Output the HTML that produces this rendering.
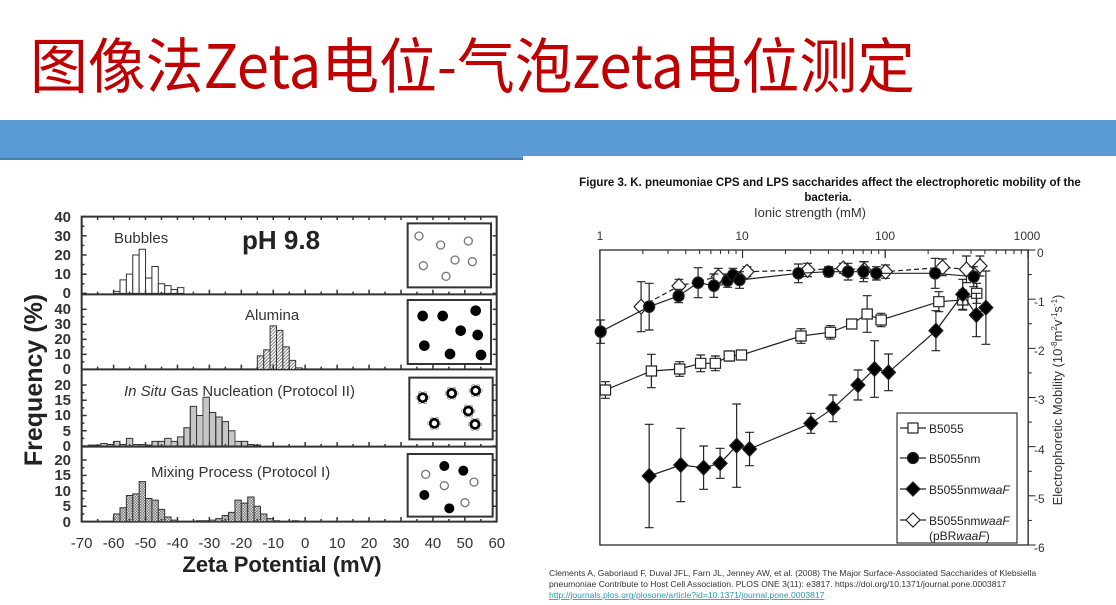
<!DOCTYPE html>
<html><head><meta charset="utf-8"><style>
html,body{margin:0;padding:0;background:#fff;width:1116px;height:605px;overflow:hidden}
svg{display:block}
text{font-family:"Liberation Sans","Noto Sans CJK SC",sans-serif}
</style></head><body>
<svg id="s" width="1116" height="605" viewBox="0 0 1116 605" xmlns="http://www.w3.org/2000/svg">
<defs>
<pattern id="hatch" patternUnits="userSpaceOnUse" width="10" height="10"><rect width="10" height="10" fill="#fff"/><path d="M-2,2 L2,-2 M0,10 L10,0 M8,12 L12,8" stroke="#444" stroke-width="2"/></pattern>
<pattern id="vert" patternUnits="userSpaceOnUse" width="6" height="6"><rect width="6" height="6" fill="#fff"/><path d="M3,0 V6" stroke="#555" stroke-width="2"/></pattern>
<pattern id="check" patternUnits="userSpaceOnUse" width="8" height="8"><rect width="8" height="8" fill="#ddd"/><rect width="4" height="4" fill="#777"/><rect x="4" y="4" width="4" height="4" fill="#777"/></pattern>
</defs>
<text x="30" y="88" font-size="60" fill="#c00000" textLength="885" lengthAdjust="spacingAndGlyphs" style="font-family:'Noto Sans CJK SC',sans-serif">图像法Zeta电位-气泡zeta电位测定</text>
<rect x="0" y="120" width="1116" height="40" fill="#5b9bd5"/>
<rect x="0" y="158" width="523" height="2" fill="#4a7fb0"/>
<rect x="523" y="156" width="593" height="449" fill="#fff"/>

<!-- LEFT CHART -->
<g id="L" transform="translate(20,200) scale(0.33333)" fill="none" stroke="#333">
<rect x="185" y="50" width="1245" height="915" stroke-width="2" vector-effect="non-scaling-stroke"/>
<path d="M185,283 H1430 M185,508 H1430 M185,740 H1430" stroke-width="2" vector-effect="non-scaling-stroke"/>
<g id="bars" stroke="#333" stroke-width="1" vector-effect="non-scaling-stroke"></g>
<g id="ticksL" stroke="#333" stroke-width="1.5"></g>
<rect x="1163" y="70" width="250" height="192" stroke-width="2" vector-effect="non-scaling-stroke"/>
<rect x="1163" y="300" width="250" height="192" stroke-width="2" vector-effect="non-scaling-stroke"/>
<rect x="1168" y="533" width="250" height="185" stroke-width="2" vector-effect="non-scaling-stroke"/>
<rect x="1163" y="762" width="255" height="188" stroke-width="2" vector-effect="non-scaling-stroke"/>
<g id="ins"></g>
</g>
<g font-size="15" fill="#333" text-anchor="end" font-weight="bold">
<text x="71" y="222">40</text><text x="71" y="241">30</text><text x="71" y="260">20</text><text x="71" y="279">10</text><text x="71" y="298">0</text>
<text x="71" y="314">40</text><text x="71" y="329">30</text><text x="71" y="344">20</text><text x="71" y="359">10</text><text x="71" y="374">0</text>
<text x="71" y="390">20</text><text x="71" y="405">15</text><text x="71" y="420">10</text><text x="71" y="436">5</text><text x="71" y="451">0</text>
<text x="71" y="465">20</text><text x="71" y="480">15</text><text x="71" y="496">10</text><text x="71" y="511">5</text><text x="71" y="527">0</text>
</g>
<g font-size="15" fill="#333" text-anchor="middle" id="xl"></g>
<text transform="translate(42,380) rotate(-90)" font-size="25" font-weight="bold" fill="#222" text-anchor="middle">Frequency (%)</text>
<text x="282" y="572" font-size="22" font-weight="bold" fill="#222" text-anchor="middle">Zeta Potential (mV)</text>
<text x="114" y="243" font-size="15" fill="#333">Bubbles</text>
<text x="242" y="249" font-size="26" font-weight="bold" fill="#222">pH 9.8</text>
<text x="245" y="320" font-size="15" fill="#333">Alumina</text>
<text x="124" y="396" font-size="15" fill="#333"><tspan font-style="italic">In Situ</tspan> Gas Nucleation (Protocol II)</text>
<text x="151" y="477" font-size="15" fill="#333">Mixing Process (Protocol I)</text>

<!-- RIGHT CHART -->
<text x="830" y="186" font-size="11.5" font-weight="bold" fill="#111" text-anchor="middle">Figure 3. K. pneumoniae CPS and LPS saccharides affect the electrophoretic mobility of the</text>
<text x="828" y="201" font-size="11.5" font-weight="bold" fill="#111" text-anchor="middle">bacteria.</text>
<text x="810" y="217" font-size="13" fill="#333" text-anchor="middle">Ionic strength (mM)</text>
<g font-size="12" fill="#333" text-anchor="middle">
<text x="600" y="240">1</text><text x="742" y="240">10</text><text x="885" y="240">100</text><text x="1027" y="240">1000</text>
</g>
<g font-size="12" fill="#333">
<text x="1037" y="257">0</text><text x="1034" y="306">-1</text><text x="1034" y="355">-2</text><text x="1034" y="404">-3</text><text x="1034" y="454">-4</text><text x="1034" y="503">-5</text><text x="1034" y="552">-6</text>
</g>
<text transform="translate(1062,400) rotate(-90)" font-size="13" fill="#333" text-anchor="middle">Electrophoretic Mobility (10<tspan font-size="8" dy="-5">-8</tspan><tspan dy="5">m</tspan><tspan font-size="8" dy="-5">2</tspan><tspan dy="5">v</tspan><tspan font-size="8" dy="-5">-1</tspan><tspan dy="5">s</tspan><tspan font-size="8" dy="-5">-1</tspan><tspan dy="5">)</tspan></text>
<g id="R" transform="translate(540,160) scale(0.3676,0.33333)" fill="none" stroke="#222">
<rect x="163" y="270" width="1165" height="885" stroke-width="1.3" vector-effect="non-scaling-stroke"/>
<g id="rt" stroke-width="1" vector-effect="non-scaling-stroke"></g>
<g id="ser"></g>
</g>
<rect x="897" y="413" width="120" height="130" fill="#fff" stroke="#333" stroke-width="1.2"/>
<g stroke="#222" stroke-width="1.2">
<line x1="900" y1="428" x2="926" y2="428"/><rect x="908" y="423" width="10" height="10" fill="#fff"/>
<line x1="900" y1="458" x2="926" y2="458"/><circle cx="913" cy="458" r="5.5" fill="#000"/>
<line x1="900" y1="489" x2="926" y2="489"/><path d="M913,482 L920,489 L913,496 L906,489Z" fill="#000"/>
<line x1="900" y1="520" x2="926" y2="520"/><path d="M913,513 L920,520 L913,527 L906,520Z" fill="#fff"/>
</g>
<g font-size="12" fill="#222">
<text x="929" y="433">B5055</text><text x="929" y="463">B5055nm</text>
<text x="929" y="494">B5055nm<tspan font-style="italic">waaF</tspan></text>
<text x="929" y="525">B5055nm<tspan font-style="italic">waaF</tspan></text>
<text x="929" y="540">(pBR<tspan font-style="italic">waaF</tspan>)</text>
</g>
<g font-size="8.6" fill="#333">
<text x="549" y="576">Clements A, Gaboriaud F, Duval JFL, Farn JL, Jenney AW, et al. (2008) The Major Surface-Associated Saccharides of Klebsiella</text>
<text x="549" y="587">pneumoniae Contribute to Host Cell Association. PLOS ONE 3(11): e3817. https://doi.org/10.1371/journal.pone.0003817</text>
<text x="549" y="598" fill="#2a9aa8" text-decoration="underline">http://journals.plos.org/plosone/article?id=10.1371/journal.pone.0003817</text>
</g>
</svg>
<script>
var NS="http://www.w3.org/2000/svg";
function el(p,t,a){var e=document.createElementNS(NS,t);for(var k in a)e.setAttribute(k,a[k]);p.appendChild(e);return e;}
var bars=document.getElementById('bars');
function X(v){return 855.6+9.58*v;}
function hist(start,vals,base,sc,fill){for(var i=0;i<vals.length;i++){var h=vals[i]*sc;if(h<=0)continue;el(bars,'rect',{x:X(start+2*i),y:base-h,width:19.16,height:h,fill:fill,'vector-effect':'non-scaling-stroke'});}}
hist(-60,[1,7,10,20,23,8,14,5,4,2,3],280,5.75,'#fff');
var al=[9,13,29,26,15,6,1];for(var i=0;i<al.length;i++){var h=al[i]*4.5;el(bars,'rect',{x:712+19.16*i,y:508-h,width:19.16,height:h,fill:'url(#hatch)','vector-effect':'non-scaling-stroke'});}
hist(-68,[0.3,0.3,0.8,0.5,1.5,0.5,2.5,0.5,0.5,0.3,1.5,1.5,2.5,1.5,3,6,13,10,16,11,9.5,8,5,1.5,1.5,0.5,0.3],738,9.15,'url(#vert)');
hist(-60,[2.5,4.5,8.5,9,13,7.5,7,4,1.5,0.5],965,9.25,'url(#check)');
hist(-34,[0.3,0.3,0.5,1,2,3,7,6,8,5,2.5,1,0.3],965,9.25,'url(#check)');
hist(-4,[0.3],965,9.25,'url(#check)');
var tl=document.getElementById('ticksL');
var xl=document.getElementById('xl');
for(var v=-70;v<=60;v+=5){var x=X(v);var big=v%10==0;
 [283,508,740,965].forEach(function(b){el(tl,'line',{x1:x,y1:b,x2:x,y2:b-(big?14:8),'vector-effect':'non-scaling-stroke'});});
 el(tl,'line',{x1:x,y1:50,x2:x,y2:60,'vector-effect':'non-scaling-stroke'});
 if(big){var t=el(xl,'text',{x:20+x/3,y:548});t.textContent=v;}}
// y ticks
[[50,280,4],[328,508,4],[555,738,4],[780,965,4]].forEach(function(p){var st=(p[1]-p[0])/p[2];for(var k=0;k<=p[2];k++){var y=p[1]-k*st;el(tl,'line',{x1:185,y1:y,x2:200,y2:y,'vector-effect':'non-scaling-stroke'});el(tl,'line',{x1:1430,y1:y,x2:1418,y2:y,'vector-effect':'non-scaling-stroke'});if(k<p[2])el(tl,'line',{x1:185,y1:y-st/2,x2:193,y2:y-st/2,'vector-effect':'non-scaling-stroke'});}});
var ins=document.getElementById('ins');
[[1197,108],[1262,135],[1345,123],[1210,197],[1305,180],[1357,185],[1278,229]].forEach(function(c){el(ins,'circle',{cx:c[0],cy:c[1],r:12,stroke:'#777',fill:'#fff','stroke-width':4});});
[[1208,348],[1268,348],[1367,332],[1322,392],[1373,405],[1213,437],[1290,462],[1383,465]].forEach(function(c){el(ins,'circle',{cx:c[0],cy:c[1],r:16,fill:'#000',stroke:'none'});});
[[1208,593],[1295,580],[1367,572],[1345,633],[1243,670],[1365,673]].forEach(function(c){for(var a=0;a<6;a++){var an=a*1.05;el(ins,'circle',{cx:c[0]+15*Math.cos(an),cy:c[1]+15*Math.sin(an),r:5,stroke:'#888',fill:'#fff','stroke-width':2});}el(ins,'circle',{cx:c[0],cy:c[1],r:12,stroke:'#000',fill:'#fff','stroke-width':8});});
[[1273,798],[1330,812],[1213,885],[1288,925]].forEach(function(c){el(ins,'circle',{cx:c[0],cy:c[1],r:15,fill:'#000',stroke:'none'});});
[[1217,823],[1273,857],[1362,846],[1335,908]].forEach(function(c){el(ins,'circle',{cx:c[0],cy:c[1],r:12,stroke:'#777',fill:'#fff','stroke-width':4});});
// right chart ticks
var rt=document.getElementById('rt');
for(var d=0;d<3;d++)for(var m=1;m<=10;m++){var x=163+388*(d+Math.log10(m));var L=(m==1||m==10)?24:12;el(rt,'line',{x1:x,y1:270,x2:x,y2:270+L,'vector-effect':'non-scaling-stroke'});}
for(var k=0;k<=12;k++){var y=270+k*885/12;el(rt,'line',{x1:1328,y1:y,x2:1328+(k%2?10:20),y2:y,'vector-effect':'non-scaling-stroke'});}
var ser=document.getElementById('ser');
function series(pts,type,dash){var d='';pts.forEach(function(p,i){d+=(i?'L':'M')+p[0]+','+p[1];});
 var a={d:d,stroke:'#222','stroke-width':1.2,'vector-effect':'non-scaling-stroke',fill:'none'};if(dash)a['stroke-dasharray']='5,3';el(ser,'path',a);
 pts.forEach(function(p){var e=p[2];el(ser,'path',{d:'M'+p[0]+','+(p[1]-e)+'V'+(p[1]+e)+'M'+(p[0]-12)+','+(p[1]-e)+'h24M'+(p[0]-12)+','+(p[1]+e)+'h24',stroke:'#222','stroke-width':1.2,'vector-effect':'non-scaling-stroke'});});
 pts.forEach(function(p){var x=p[0],y=p[1];var sa={stroke:'#222','stroke-width':1.2,'vector-effect':'non-scaling-stroke'};
  if(type=='sq'){sa.x=x-14;sa.y=y-15;sa.width=28;sa.height=30;sa.fill='#fff';el(ser,'rect',sa);}
  else if(type=='ci'){sa.cx=x;sa.cy=y;sa.rx=15;sa.ry=17;sa.fill='#000';el(ser,'ellipse',sa);}
  else{sa.d='M'+x+','+(y-22)+'L'+(x+19)+','+y+'L'+x+','+(y+22)+'L'+(x-19)+','+y+'Z';sa.fill=type=='dm'?'#000':'#fff';el(ser,'path',sa);}});}
series([[275,440,75],[378,378,20],[485,350,25],[563,335,15],[728,330,20],[825,325,15],[882,330,25],[940,335,20],[1095,322,25],[1160,328,40],[1197,318,30]],'od',true);
series([[165,515,35],[297,440,70],[377,408,20],[430,368,45],[473,377,35],[510,362,20],[525,345,20],[543,360,25],[703,340,28],[785,335,15],[838,335,25],[880,335,30],[915,340,20],[1075,340,45],[1180,350,30]],'ci');
series([[178,690,25],[303,633,50],[380,627,22],[437,610,25],[477,610,22],[515,588,15],[548,585,8],[710,528,22],[790,517,20],[848,492,10],[890,462,55],[928,480,20],[1085,425,30],[1150,420,30],[1188,400,30]],'sq');
series([[297,948,155],[383,915,110],[445,923,65],[490,910,45],[535,857,125],[570,867,50],[737,790,30],[797,745,40],[865,675,45],[910,627,85],[948,637,55],[1077,512,60],[1150,403,45],[1187,465,65],[1213,443,110]],'dm');
</script>
</body></html>
